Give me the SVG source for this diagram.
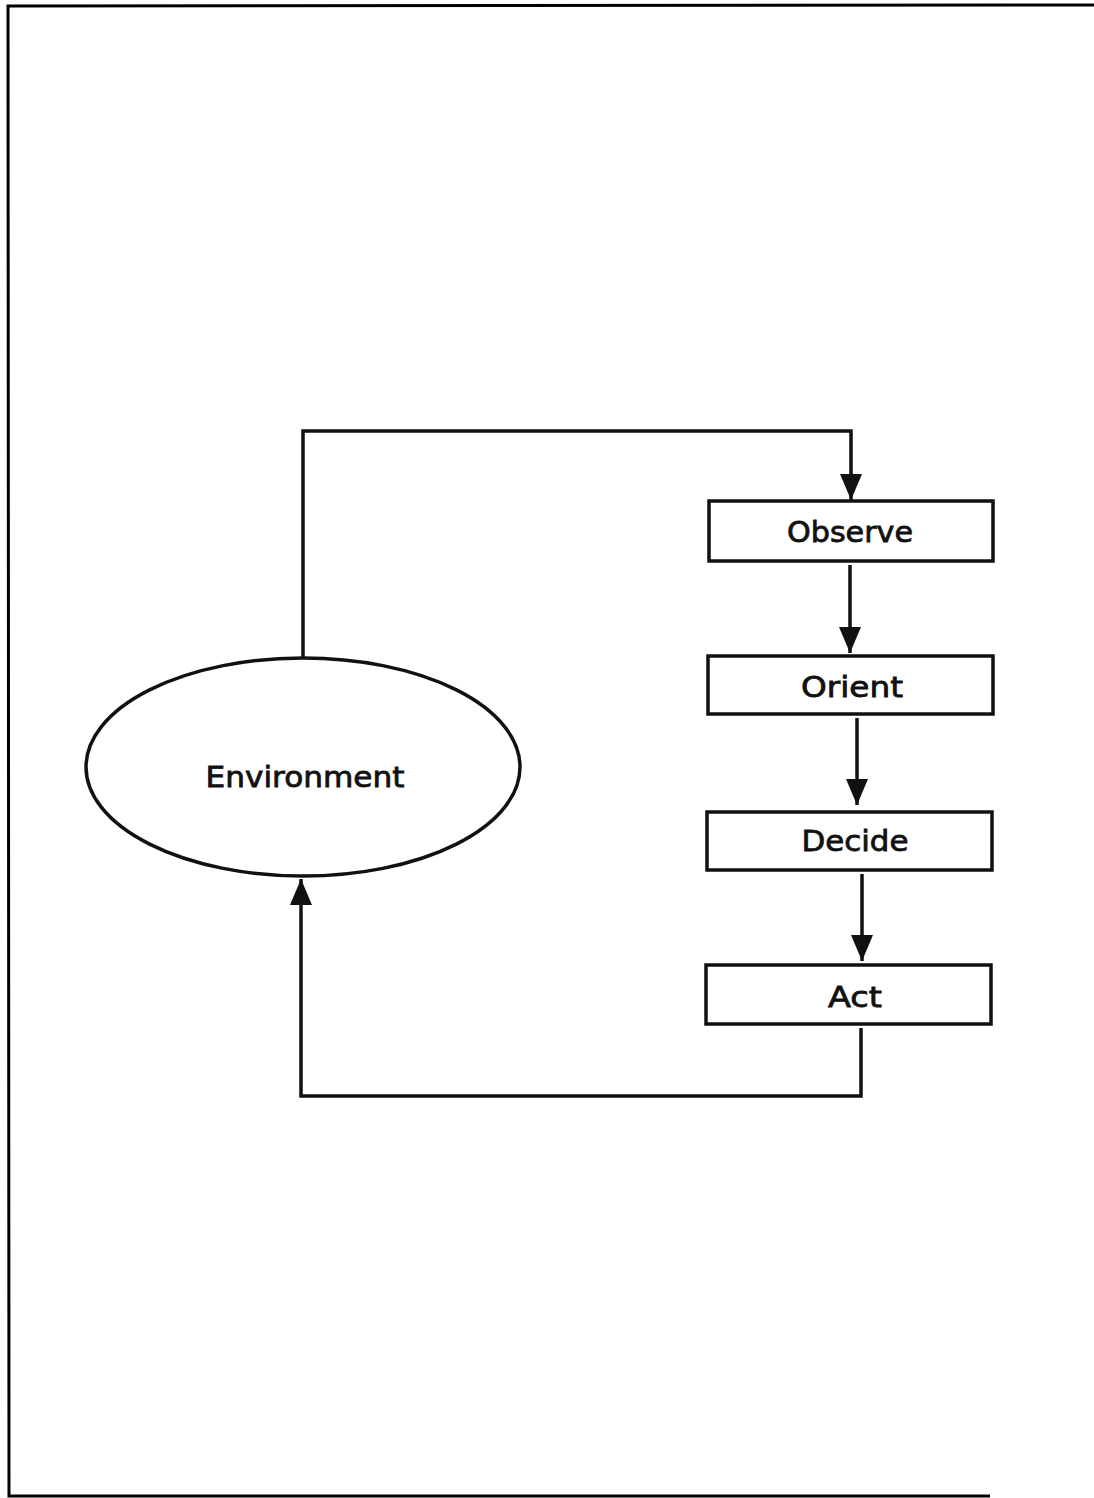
<svg xmlns="http://www.w3.org/2000/svg" width="1094" height="1498" viewBox="0 0 1094 1498">
<style>
.frame{stroke:#000;stroke-width:3;fill:none}
.box{fill:#fff;stroke:#111;stroke-width:3.5}
.lbl{font-family:"DejaVu Sans",sans-serif;font-size:29px;fill:#111;stroke:#111;stroke-width:0.8;text-anchor:middle}
.conn{stroke:#111;stroke-width:3.5;fill:none}
</style>
<defs>
<marker id="ah" viewBox="0 0 26 22" refX="26" refY="11" markerWidth="26" markerHeight="22" markerUnits="userSpaceOnUse" orient="auto">
<path d="M0,0 L26,11 L0,22 Z" fill="#111"/>
</marker>
</defs>
<rect width="1094" height="1498" fill="#fff"/>
<g id="frame">
<path class="frame" d="M1094,5 L8,6 L9,1496 L990,1496"/>
</g>
<g id="connectors">
<path class="conn" d="M303,658 L303,431 L851,431 L851,500" marker-end="url(#ah)"/>
<path class="conn" d="M850,565 L850,653" marker-end="url(#ah)"/>
<path class="conn" d="M857,718 L857,805" marker-end="url(#ah)"/>
<path class="conn" d="M862,874 L862,961" marker-end="url(#ah)"/>
<path class="conn" d="M861,1028 L861,1096 L301,1096 L301,879" marker-end="url(#ah)"/>
</g>
<g id="environment">
<ellipse class="box" cx="303" cy="767" rx="217" ry="109"/>
<text class="lbl" x="305" y="787" textLength="199" lengthAdjust="spacingAndGlyphs">Environment</text>
</g>
<g id="observe">
<rect class="box" x="709" y="501" width="284" height="60"/>
<text class="lbl" x="850" y="542" textLength="126" lengthAdjust="spacingAndGlyphs">Observe</text>
</g>
<g id="orient">
<rect class="box" x="708" y="656" width="285" height="58"/>
<text class="lbl" x="852" y="697" textLength="102" lengthAdjust="spacingAndGlyphs">Orient</text>
</g>
<g id="decide">
<rect class="box" x="707" y="812" width="285" height="58"/>
<text class="lbl" x="855" y="851" textLength="107" lengthAdjust="spacingAndGlyphs">Decide</text>
</g>
<g id="act">
<rect class="box" x="706" y="965" width="285" height="59"/>
<text class="lbl" x="855" y="1007" textLength="54" lengthAdjust="spacingAndGlyphs">Act</text>
</g>
</svg>
